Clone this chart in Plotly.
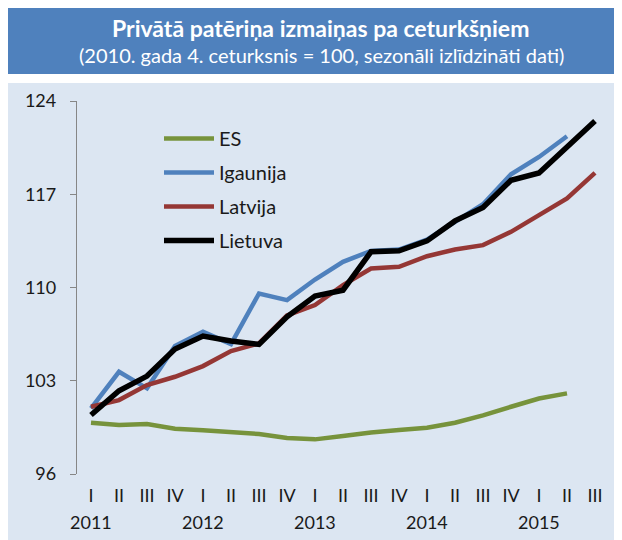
import plotly.graph_objects as go

quarters = ["I", "II", "III", "IV"] * 4 + ["I", "II", "III"]
years = ["2011", "2012", "2013", "2014", "2015"]

es = [99.85, 99.67, 99.75, 99.4, 99.28, 99.1, 99.0, 98.7, 98.6, 98.85, 99.12, 99.3,
      99.47, 99.85, 100.4, 101.05, 101.67, 102.05]
igaunija = [100.93, 103.67, 102.43, 105.6, 106.67, 105.75, 109.55, 109.05, 110.6, 111.93,
            112.75, 112.85, 113.6, 114.9, 116.25, 118.5, 119.8, 121.35]
latvija = [101.05, 101.55, 102.68, 103.3, 104.1, 105.23, 105.8, 107.9, 108.68, 110.18,
           111.43, 111.55, 112.35, 112.85, 113.18, 114.18, 115.43, 116.68, 118.6]
lietuva = [100.43, 102.25, 103.35, 105.38, 106.35, 105.98, 105.73, 107.8, 109.35, 109.8,
           112.68, 112.75, 113.5, 115.0, 116.0, 118.05, 118.6, 120.55, 122.5]

series = [
    ("ES", es, "#77933C", 4.5),
    ("Igaunija", igaunija, "#4F81BD", 4.5),
    ("Latvija", latvija, "#953735", 4.5),
    ("Lietuva", lietuva, "#000000", 5.5),
]

FONT = "Lato"
TXT = "#1a1a1a"
fig = go.Figure()
for name, vals, color, w in series:
    fig.add_trace(go.Scatter(
        x=list(range(len(vals))), y=vals, name=name, mode="lines",
        line=dict(color=color, width=w), legendgroup=name,
        xaxis="x2",
    ))

n = len(quarters)
# page has an 8px body margin; figure coordinates = page coordinates - 8
OFF = 8
W, H = 614, 532
ml, mr, mt, mb = 69, 13, 93, 66
pw, ph = W - ml - mr, H - mt - mb


def px_x(p):
    return (p - OFF - ml) / pw


def px_y(p):
    return (H - mb - (p - OFF)) / ph


shapes = [
    dict(type="rect", xref="paper", yref="paper", x0=px_x(0), x1=px_x(640),
         y0=px_y(8), y1=px_y(74), fillcolor="#4F81BD", line=dict(width=0), layer="below"),
    dict(type="rect", xref="paper", yref="paper", x0=px_x(0), x1=px_x(640),
         y0=px_y(83), y1=px_y(560), fillcolor="#DCE6F2", line=dict(width=0), layer="below"),
]

annotations = [
    dict(text="<b>Privātā patēriņa izmaiņas pa ceturkšņiem</b>", xref="paper", yref="paper",
         x=px_x(320), y=px_y(28), showarrow=False, font=dict(family=FONT, size=23, color="white"),
         xanchor="center", yanchor="middle"),
    dict(text="(2010. gada 4. ceturksnis = 100, sezonāli izlīdzināti dati)", xref="paper", yref="paper",
         x=px_x(321), y=px_y(55), showarrow=False, font=dict(family=FONT, size=20, color="white"),
         xanchor="center", yanchor="middle"),
]
for k, yr in enumerate(years):
    annotations.append(dict(text=yr, xref="x2", yref="paper", x=4 * k, y=px_y(522),
                            showarrow=False, font=dict(family=FONT, size=18, color=TXT),
                            xanchor="center", yanchor="middle"))

fig.update_layout(
    width=W, height=H,
    margin=dict(l=ml, r=mr, t=mt, b=mb),
    paper_bgcolor="white",
    plot_bgcolor="rgba(0,0,0,0)",
    shapes=shapes,
    annotations=annotations,
    showlegend=True,
    legend=dict(x=px_x(159), y=px_y(119), xanchor="left", yanchor="top",
                bgcolor="rgba(0,0,0,0)", font=dict(family=FONT, size=20, color=TXT),
                tracegroupgap=5, itemwidth=50),
    xaxis=dict(range=[-0.5, n - 0.5], tickmode="array",
               tickvals=[i - 0.5 for i in range(n + 1)], showticklabels=False,
               ticks="outside", ticklen=7, tickcolor="#868686", tickwidth=1.3,
               showline=True, linecolor="#868686", linewidth=1.3, showgrid=False, zeroline=False),
    xaxis2=dict(range=[-0.5, n - 0.5], overlaying="x", tickmode="array",
                tickvals=list(range(n)), ticktext=quarters, ticks="", showgrid=False,
                zeroline=False, showline=False, side="bottom", anchor="y", ticklabelstandoff=9,
                tickfont=dict(family=FONT, size=18, color=TXT)),
    yaxis=dict(range=[96, 124], tickmode="array", tickvals=[96, 103, 110, 117, 124],
               ticks="outside", ticklen=6, tickcolor="#868686", tickwidth=1.3,
               showline=True, linecolor="#868686", linewidth=1.3, showgrid=False, zeroline=False,
               ticklabelstandoff=10,
               tickfont=dict(family=FONT, size=18, color=TXT)),
)

fig.write_html("out.html")
